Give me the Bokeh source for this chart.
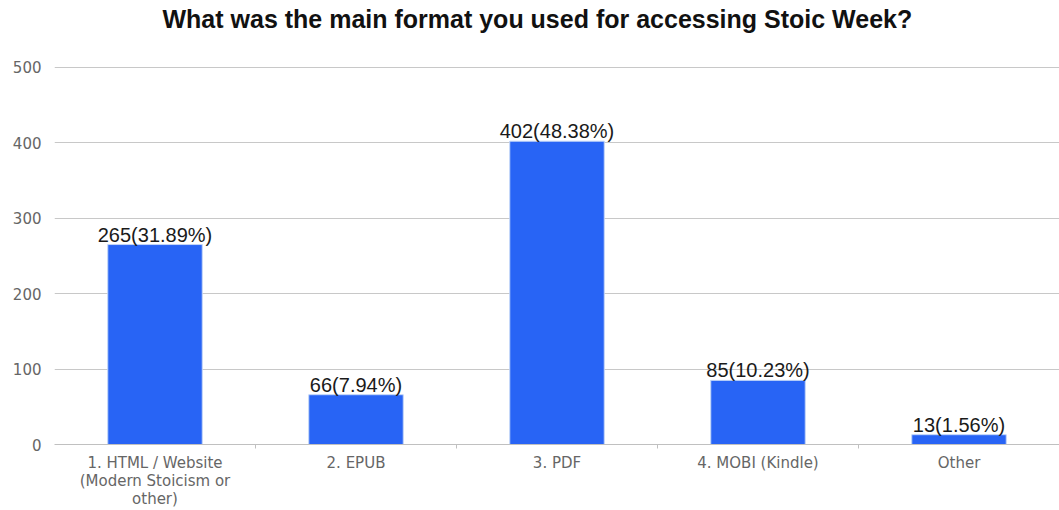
from bokeh.plotting import figure
from bokeh.models import Range1d, FixedTicker, ColumnDataSource
from bokeh.core.properties import value
from bokeh.embed import file_html
from bokeh.resources import INLINE

title_text = "What was the main format you used for accessing Stoic Week?"
categories = [
    "1. HTML / Website\n(Modern Stoicism or\nother)",
    "2. EPUB",
    "3. PDF",
    "4. MOBI (Kindle)",
    "Other",
]
counts = [265, 66, 402, 85, 13]
percents = ["31.89%", "7.94%", "48.38%", "10.23%", "1.56%"]
y_ticks = [0, 100, 200, 300, 400, 500]

positions = [i + 0.5 for i in range(len(categories))]
boundaries = list(range(1, len(categories)))
labels = [f"{c}({p})" for c, p in zip(counts, percents)]

source = ColumnDataSource(dict(x=positions, top=counts, label=labels))

p = figure(
    width=1059, height=510,
    x_range=Range1d(0, len(categories)), y_range=Range1d(0, 501),
    output_backend="svg", toolbar_location=None,
    title=title_text,
    min_border_left=54, min_border_right=0, min_border_top=66, min_border_bottom=0,
)
p.outline_line_color = None
p.background_fill_color = "white"
p.border_fill_color = "white"

p.title.text_font = "Liberation Sans"
p.title.text_font_style = "bold"
p.title.text_font_size = "25px"
p.title.text_color = "#111111"
p.title.align = "left"
p.title.vertical_align = "top"
p.title.offset = 108
p.title.standoff = 0
p.title.padding = dict(left=0, right=0, top=0, bottom=32)

p.vbar(x="x", top="top", width=0.47, source=source,
       fill_color="#2864f5", line_color="#c2d6f7", line_width=1)
p.text(x="x", y="top", text="label", source=source,
       text_align="center", text_baseline="bottom", y_offset=1,
       text_font=value("Liberation Sans"), text_font_size="20px",
       text_color="#1a1a1a")

p.xgrid.grid_line_color = None
p.ygrid.grid_line_color = "#c8c8c8"
p.ygrid.ticker = FixedTicker(ticks=y_ticks)

yax = p.yaxis[0]
yax.ticker = FixedTicker(ticks=y_ticks)
yax.axis_line_color = None
yax.major_tick_line_color = None
yax.major_tick_out = 0
yax.major_tick_in = 0
yax.minor_tick_line_color = None
yax.minor_tick_out = 0
yax.major_label_text_font = "DejaVu Sans"
yax.major_label_text_font_size = "15px"
yax.major_label_text_color = "#666666"
yax.major_label_standoff = 13

xax = p.xaxis[0]
xax.ticker = FixedTicker(ticks=positions, minor_ticks=boundaries)
xax.major_label_overrides = dict(zip(positions, categories))
xax.axis_line_color = "#c0c0c0"
xax.major_tick_line_color = None
xax.major_tick_out = 0
xax.major_tick_in = 0
xax.minor_tick_line_color = "#c0c0c0"
xax.minor_tick_in = 0
xax.minor_tick_out = 4
xax.major_label_text_font = "DejaVu Sans"
xax.major_label_text_font_size = "15px"
xax.major_label_text_color = "#666666"
xax.major_label_text_line_height = 1.0
xax.major_label_standoff = 5

open("out.html", "w").write(file_html(p, INLINE))
